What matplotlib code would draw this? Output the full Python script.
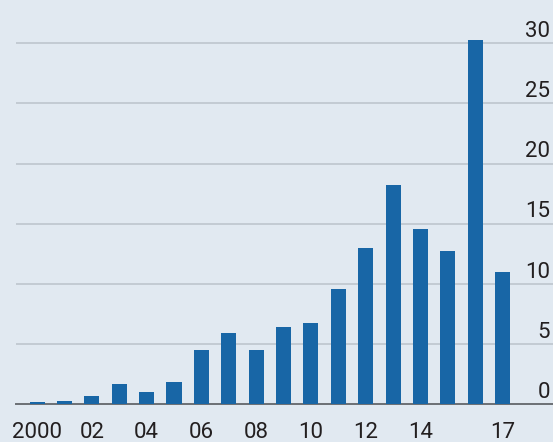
import numpy as np
import matplotlib.pyplot as plt
from matplotlib.transforms import blended_transform_factory

years = list(range(2000, 2018))
values = [0.15, 0.25, 0.7, 1.7, 1.0, 1.8, 4.5, 5.9, 4.45, 6.4, 6.7, 9.55,
          12.95, 18.25, 14.55, 12.75, 30.3, 10.95]
tick_years = [2000, 2002, 2004, 2006, 2008, 2010, 2012, 2014, 2017]
tick_labels = ["2000", "02", "04", "06", "08", "10", "12", "14", "17"]
y_ticks = [0, 5, 10, 15, 20, 25, 30]

BG = "#e1e9f1"
BAR = "#1866a6"
GRID = "#c3cbd3"
TXT = "#231f20"
FONT = ["Roboto", "DejaVu Sans"]

fig = plt.figure(figsize=(5.53, 4.42), dpi=100, facecolor=BG)
ax = fig.add_axes([16/553, 1-404/442, 1-16/553, 404/442])
ax.set_facecolor(BG)

ax.bar(years, values, width=0.55, color=BAR, zorder=3)

ax.set_xlim(2000-0.77, 2018.84)
ax.set_ylim(0, 33.6)

for y in y_ticks[1:]:
    ax.axhline(y, color=GRID, lw=1.4, zorder=1)
ax.axhline(0, color="#6b6f74", lw=1.4, zorder=2, clip_on=False)

tr = blended_transform_factory(ax.transAxes, ax.transData)
for y in y_ticks:
    ax.annotate(str(y), xy=(1-3/537, y), xycoords=tr, xytext=(0, 4.5),
                textcoords="offset points", ha="right", va="baseline",
                fontsize=16, color=TXT, family=FONT)

ax.set_xticks(tick_years)
ax.set_xticklabels(tick_labels, fontsize=16, color=TXT, family=FONT)
ax.tick_params(axis="x", length=0, pad=13)
ax.set_yticks([])
for s in ax.spines.values():
    s.set_visible(False)

fig.savefig("out.png", dpi=100, facecolor=BG)
